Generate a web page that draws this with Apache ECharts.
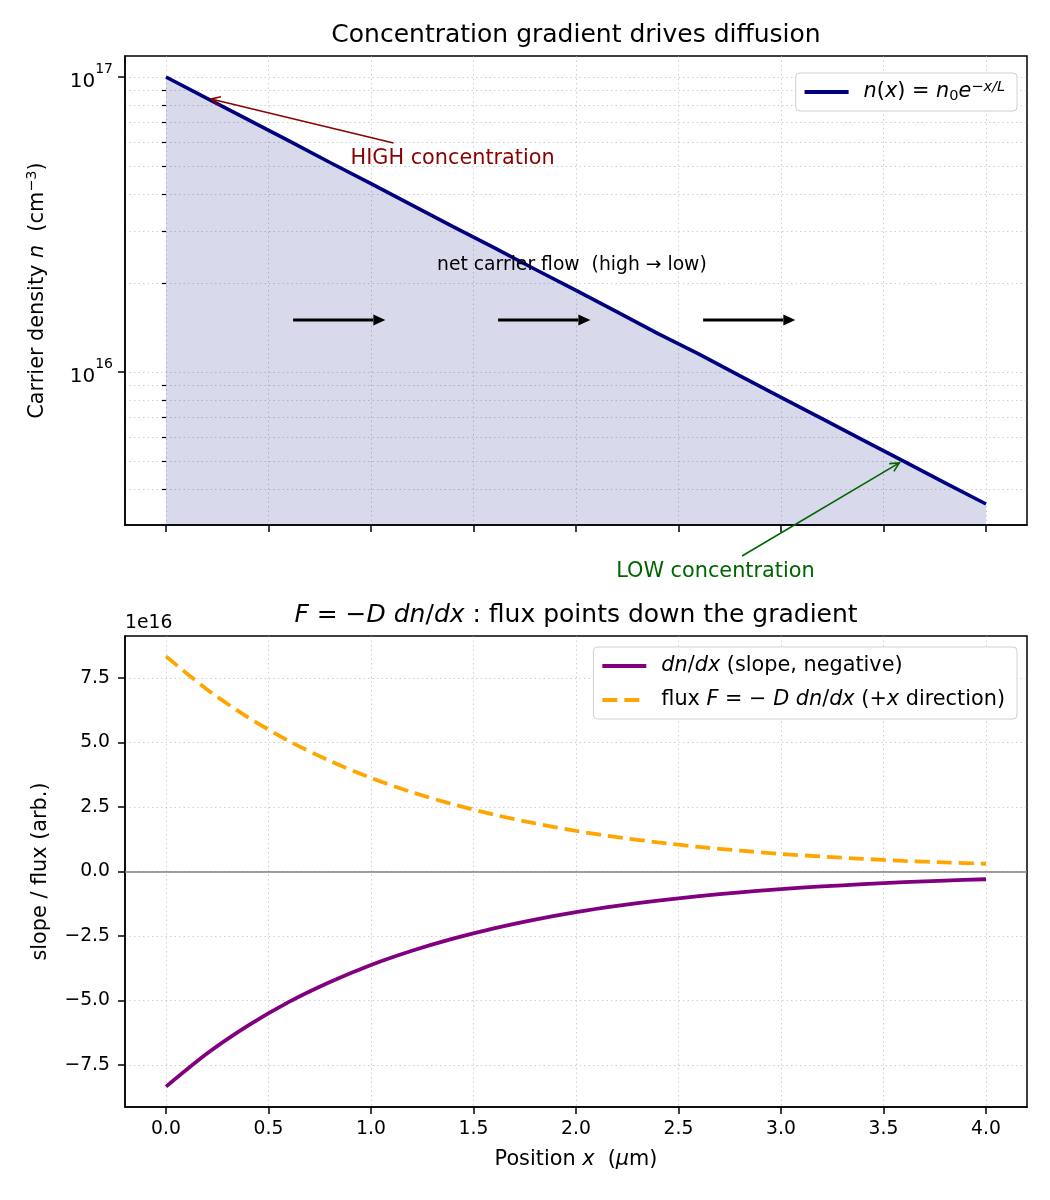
<!DOCTYPE html>
<html>
<head>
<meta charset="utf-8">
<script src="https://cdn.jsdelivr.net/npm/echarts@6/dist/echarts.min.js"></script>
<style>
  html, body { margin: 0; background: #fff; }
  #chart { width: 1050px; height: 1200px; }
</style>
</head>
<body>
<div id="chart"></div>
<script>
// position along the sample (um)
const positions = [0, 0.2, 0.4, 0.6, 0.8, 1.0, 1.2, 1.4, 1.6, 1.8, 2.0, 2.2, 2.4, 2.6, 2.8, 3.0, 3.2, 3.4, 3.6, 3.8, 4.0];
// carrier density (cm^-3)
const density = [1.00e17, 8.46e16, 7.17e16, 6.07e16, 5.13e16, 4.35e16, 3.68e16, 3.11e16, 2.64e16, 2.23e16, 1.89e16,
  1.60e16, 1.35e16, 1.15e16, 9.70e15, 8.21e15, 6.95e15, 5.88e15, 4.98e15, 4.21e15, 3.57e15];
// slope and flux, in units of 1e16
const slope = [-8.33, -7.05, -5.97, -5.05, -4.28, -3.62, -3.07, -2.60, -2.20, -1.86, -1.57,
  -1.33, -1.13, -0.95, -0.81, -0.68, -0.58, -0.49, -0.41, -0.35, -0.30];
const flux = [8.33, 7.05, 5.97, 5.05, 4.28, 3.62, 3.07, 2.60, 2.20, 1.86, 1.57,
  1.33, 1.13, 0.95, 0.81, 0.68, 0.58, 0.49, 0.41, 0.35, 0.30];

const xTicks = [0, 0.5, 1.0, 1.5, 2.0, 2.5, 3.0, 3.5, 4.0];
const densityMajor = [1e16, 1e17];
const densityMinor = [4e15, 5e15, 6e15, 7e15, 8e15, 9e15, 2e16, 3e16, 4e16, 5e16, 6e16, 7e16, 8e16, 9e16];
const fluxTicks = [-7.5, -5.0, -2.5, 0, 2.5, 5.0, 7.5];

// annotation anchors, data units of the top panel
const highLabel = [0.9, 5.27e16];
const highArrow = [[1.11, 5.97e16], [0.22, 8.42e16]];
const lowLabel = [2.68, 2.1e15];
const lowArrow = [[2.81, 2.38e15], [3.577, 4.92e15]];
const flowLabel = [1.98, 2.3e16];
const flowArrows = [[0.62, 1.07], [1.62, 2.07], [2.62, 3.07]];
const flowY = 1.5e16;

const FONT = 'DejaVu Sans';
const grid0 = { left: 125, top: 56, width: 902, height: 469 };
const grid1 = { left: 125, top: 636, width: 902, height: 471 };
const midX = grid0.left + grid0.width / 2;

const gridLine = { show: true, lineStyle: { color: 'rgba(176,176,176,0.6)', width: 1, type: [1.5, 3] } };
const tick = { show: true, inside: false, length: 7, lineStyle: { color: '#000', width: 1.5 } };
const axLine = { show: true, onZero: false, lineStyle: { color: '#000', width: 1.5 } };
const tickFont = { fontFamily: FONT, fontSize: 18.75, color: '#000' };

const rich = (size) => ({
  i: { fontFamily: FONT, fontSize: size, fontStyle: 'italic' },
  sup: { fontFamily: FONT, fontSize: size * 0.7, fontStyle: 'italic', verticalAlign: 'top', lineHeight: size * 0.7 },
  sub: { fontFamily: FONT, fontSize: size * 0.7, verticalAlign: 'bottom', lineHeight: size * 0.7 }
});

const legendText = {
  'n(x)': '{i|n}({i|x}) = {i|n}{sub|0}{i|e}{sup|−x/L}',
  'slope': '{i|dn}/{i|dx} (slope, negative)',
  'flux': 'flux {i|F} = − {i|D dn}/{i|dx} (+{i|x} direction)'
};

const legendBase = {
  orient: 'vertical',
  right: 33,
  itemWidth: 44,
  itemHeight: 14,
  itemGap: 10,
  padding: [7, 12, 7, 7],
  backgroundColor: '#fff',
  borderColor: '#d0d0d0',
  borderWidth: 1,
  borderRadius: 4,
  itemStyle: { opacity: 0 },
  lineStyle: { width: 3.8 },
  formatter: name => legendText[name],
  textStyle: { fontFamily: FONT, fontSize: 20.8, color: '#000', lineHeight: 24, padding: [0, 0, 0, 10], rich: rich(20.8) }
};

const option = {
  animation: false,
  backgroundColor: '#fff',
  textStyle: { fontFamily: FONT },
  grid: [
    Object.assign({ show: true, borderColor: '#000', borderWidth: 1.5, outerBoundsMode: 'none' }, grid0),
    Object.assign({ show: true, borderColor: '#000', borderWidth: 1.5, outerBoundsMode: 'none' }, grid1)
  ],
  legend: [
    Object.assign({}, legendBase, { top: 73, data: ['n(x)'] }),
    Object.assign({}, legendBase, { top: 647, data: ['slope', 'flux'] })
  ],
  xAxis: [
    {
      type: 'value', gridIndex: 0, min: -0.2, max: 4.2,
      axisLine: axLine,
      axisTick: Object.assign({ customValues: xTicks }, tick),
      axisLabel: { show: false },
      splitLine: gridLine
    },
    {
      type: 'value', gridIndex: 1, min: -0.2, max: 4.2,
      name: 'Position {i|x}  ({i|μ}m)', nameLocation: 'middle', nameGap: 42, nameMoveOverlap: false,
      nameTextStyle: { fontFamily: FONT, fontSize: 20.8, color: '#000', rich: rich(20.8) },
      axisLine: axLine,
      axisTick: Object.assign({ customValues: xTicks }, tick),
      axisLabel: Object.assign({ customValues: xTicks, margin: 13, formatter: v => v.toFixed(1) }, tickFont),
      splitLine: gridLine
    }
  ],
  yAxis: [
    {
      type: 'log', logBase: 10, gridIndex: 0, min: 3.03e15, max: 1.178e17,
      name: 'Carrier density {i|n}  (cm{sup|−3})', nameLocation: 'middle', nameGap: 74, nameRotate: 90, nameMoveOverlap: false,
      nameTextStyle: {
        fontFamily: FONT, fontSize: 20.8, color: '#000', lineHeight: 26,
        rich: {
          i: { fontFamily: FONT, fontSize: 20.8, fontStyle: 'italic', lineHeight: 26 },
          sup: { fontFamily: FONT, fontSize: 14.5, verticalAlign: 'top', lineHeight: 14 }
        }
      },
      axisLine: axLine,
      axisTick: Object.assign({ customValues: densityMajor }, tick),
      axisLabel: Object.assign({
        customValues: densityMajor, margin: 12,
        formatter: v => '{b|10}{s|' + Math.round(Math.log10(v)) + '}',
        rich: {
          b: { fontFamily: FONT, fontSize: 20, lineHeight: 30, verticalAlign: 'bottom' },
          s: { fontFamily: FONT, fontSize: 14, lineHeight: 16, verticalAlign: 'top' }
        }
      }, tickFont),
      splitLine: gridLine
    },
    {
      type: 'log', logBase: 10, gridIndex: 0, min: 3.03e15, max: 1.178e17, position: 'left',
      axisLine: { show: false },
      axisTick: { show: true, inside: false, length: 4, customValues: densityMinor, lineStyle: { color: '#000', width: 1.2 } },
      axisLabel: { show: false },
      splitLine: gridLine
    },
    {
      type: 'value', gridIndex: 1, min: -9.12, max: 9.12,
      name: 'slope / flux (arb.)', nameLocation: 'middle', nameGap: 74, nameRotate: 90, nameMoveOverlap: false,
      nameTextStyle: { fontFamily: FONT, fontSize: 20.8, color: '#000' },
      axisLine: axLine,
      axisTick: Object.assign({ customValues: fluxTicks }, tick),
      axisLabel: Object.assign({
        customValues: fluxTicks, margin: 15,
        formatter: v => (v < 0 ? '−' : '') + Math.abs(v).toFixed(1)
      }, tickFont),
      splitLine: gridLine
    }
  ],
  series: [
    {
      name: 'n(x)', type: 'line', xAxisIndex: 0, yAxisIndex: 0,
      symbol: 'none', z: 3,
      data: positions.map((x, i) => [x, density[i]]),
      lineStyle: { color: '#000080', width: 3.6 },
      itemStyle: { color: '#000080' },
      areaStyle: { color: '#000080', opacity: 0.15, origin: 'start' }
    },
    {
      name: 'slope', type: 'line', xAxisIndex: 1, yAxisIndex: 2,
      symbol: 'none', smooth: 0.25,
      data: positions.map((x, i) => [x, slope[i]]),
      lineStyle: { color: '#800080', width: 3.8 },
      itemStyle: { color: '#800080' }
    },
    {
      name: 'flux', type: 'line', xAxisIndex: 1, yAxisIndex: 2,
      symbol: 'none', smooth: 0.25,
      data: positions.map((x, i) => [x, flux[i]]),
      lineStyle: { color: '#ffa500', width: 3.8, type: [15, 7] },
      itemStyle: { color: '#ffa500' },
      markLine: {
        silent: true, symbol: 'none', animation: false,
        label: { show: false },
        lineStyle: { color: '#808080', width: 1.5, type: 'solid' },
        data: [{ yAxis: 0 }]
      }
    }
  ]
};

const chart = echarts.init(document.getElementById('chart'));
chart.setOption(option);

const toPx = v => chart.convertToPixel({ xAxisIndex: 0, yAxisIndex: 0 }, v);

function headPoints(from, tip, len, half) {
  const dx = tip[0] - from[0], dy = tip[1] - from[1];
  const d = Math.hypot(dx, dy);
  const ux = dx / d, uy = dy / d;
  const bx = tip[0] - ux * len, by = tip[1] - uy * len;
  return { base: [bx, by], pts: [[bx - uy * half, by + ux * half], tip, [bx + uy * half, by - ux * half]] };
}

function openArrow(a, b, color) {
  const s = toPx(a), t = toPx(b);
  const h = headPoints(s, t, 9, 4.5);
  return [
    { type: 'line', shape: { x1: s[0], y1: s[1], x2: t[0], y2: t[1] }, style: { stroke: color, lineWidth: 1.6 }, z: 10 },
    { type: 'polyline', shape: { points: h.pts }, style: { stroke: color, lineWidth: 1.6, fill: null }, z: 10 }
  ];
}

function solidArrow(a, b) {
  const s = toPx(a), t = toPx(b);
  const h = headPoints(s, t, 12, 5.5);
  return [
    { type: 'line', shape: { x1: s[0], y1: s[1], x2: h.base[0], y2: h.base[1] }, style: { stroke: '#000', lineWidth: 3 }, z: 10 },
    { type: 'polygon', shape: { points: h.pts }, style: { fill: '#000' }, z: 10 }
  ];
}

function label(text, at, color, size, align, extra) {
  return {
    type: 'text', x: at[0], y: at[1], z: 10,
    style: Object.assign({
      text: text, fill: color, fontFamily: FONT, fontSize: size,
      textAlign: align, textVerticalAlign: 'middle'
    }, extra || {})
  };
}

const graphics = [];
graphics.push(label('Concentration gradient drives diffusion', [midX, 35], '#000', 25, 'center'));
graphics.push(label('{i|F} = −{i|D dn}/{i|dx} : flux points down the gradient', [midX, 615], '#000', 25, 'center', {
  rich: { i: { fontFamily: FONT, fontSize: 25, fontStyle: 'italic' } }
}));
graphics.push(label('1e16', [grid1.left, 623], '#000', 18.75, 'left'));

graphics.push(...openArrow(highArrow[0], highArrow[1], '#8b0000'));
graphics.push(label('HIGH concentration', toPx(highLabel), '#8b0000', 20.8, 'left'));
graphics.push(...openArrow(lowArrow[0], lowArrow[1], '#006400'));
graphics.push(label('LOW concentration', toPx(lowLabel), '#006400', 20.8, 'center'));
graphics.push(label('net carrier flow  (high \u2192 low)', toPx(flowLabel), '#000', 18.75, 'center'));
flowArrows.forEach(([x0, x1]) => graphics.push(...solidArrow([x0, flowY], [x1, flowY])));

chart.setOption({ graphic: { elements: graphics } });
</script>
</body>
</html>
